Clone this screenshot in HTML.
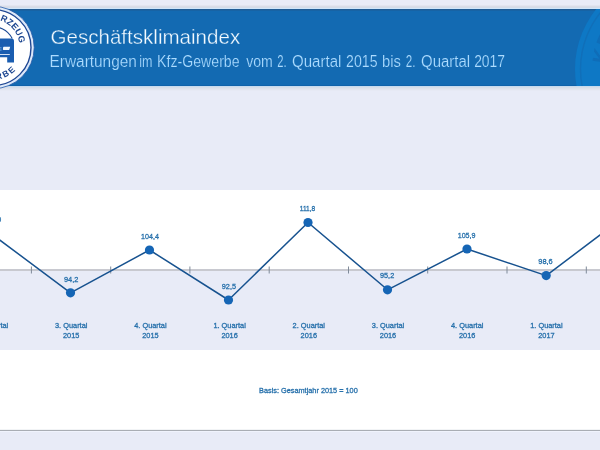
<!DOCTYPE html>
<html>
<head>
<meta charset="utf-8">
<title>Geschäftsklimaindex</title>
<style>
html,body{margin:0;padding:0;background:#e8ebf7;}
body{width:600px;height:450px;overflow:hidden;font-family:"Liberation Sans",sans-serif;}
svg{display:block;will-change:transform;}
text{font-family:"Liberation Sans",sans-serif;}
</style>
</head>
<body>
<svg width="600" height="450" viewBox="0 0 600 450">
  <defs>
    <clipPath id="bannerClip"><rect x="0" y="9" width="600" height="77"/></clipPath>
    <path id="arcTop" d="M -33.89 50.95 A 26.8 26.8 0 1 1 19.13 43.27"/>
    <path id="arcBot" d="M -37.16 58.48 A 32.1 32.1 0 0 0 16.67 69.19"/>
  </defs>

  <!-- page background -->
  <rect x="0" y="0" width="600" height="450" fill="#e8ebf7"/>
  <rect x="0" y="5" width="600" height="1" fill="#e2e5f0"/>
  <rect x="0" y="6" width="600" height="1" fill="#d9dde8"/>
  <rect x="0" y="7" width="600" height="1" fill="#d4dbe8"/>
  <rect x="0" y="8" width="600" height="1" fill="#cfe5fa"/>

  <!-- banner -->
  <rect x="0" y="9" width="600" height="77" fill="#136ab2"/>
  <rect x="0" y="85" width="600" height="1" fill="#0f62aa"/>
  <rect x="0" y="86" width="600" height="1" fill="#c6daee"/>
  <rect x="0" y="87" width="600" height="1" fill="#d6dee9"/>
  <rect x="0" y="88" width="600" height="1" fill="#dde2ec"/>
  <rect x="0" y="89" width="600" height="1" fill="#e2e6f0"/>
  <rect x="0" y="90" width="600" height="1" fill="#e6e9f4"/>
  <rect x="0" y="9" width="600" height="1.5" fill="#1f5c96"/>
  <!-- watermark on the right -->
  <g clip-path="url(#bannerClip)">
    <circle cx="670" cy="69" r="95" fill="#0e78c5"/>
    <circle cx="670" cy="69" r="89.5" fill="none" stroke="#116fb9" stroke-width="1.4"/>
    <g transform="translate(670 69) scale(2.306) translate(7 -47.5)" fill="#0f6db8">
      <text font-size="9" font-weight="bold"><textPath href="#arcTop" startOffset="100%" text-anchor="end">KRAFTFAHRZEUG</textPath></text>
      <text font-size="8.6" font-weight="bold" letter-spacing="1.7"><textPath href="#arcBot" startOffset="100%" text-anchor="end">GEWERBE</textPath></text>
    </g>
  </g>

  <!-- title texts -->
  <text x="50.5" y="43.7" font-size="21" fill="#f3faff" stroke="#136ab2" stroke-width="0.35" textLength="189.7" lengthAdjust="spacingAndGlyphs">Geschäftsklimaindex</text>
  <g font-size="16" fill="#addcff" stroke="#136ab2" stroke-width="0.2">
    <text x="49.54" y="66.8" textLength="87.36" lengthAdjust="spacingAndGlyphs">Erwartungen</text>
    <text x="139.22" y="66.8" textLength="13.23" lengthAdjust="spacingAndGlyphs">im</text>
    <text x="157.12" y="66.8" textLength="82.46" lengthAdjust="spacingAndGlyphs">Kfz-Gewerbe</text>
    <text x="246.25" y="66.8" textLength="26.59" lengthAdjust="spacingAndGlyphs">vom</text>
    <text x="277.30" y="66.8" textLength="9.40" lengthAdjust="spacingAndGlyphs">2.</text>
    <text x="292.06" y="66.8" textLength="49.32" lengthAdjust="spacingAndGlyphs">Quartal</text>
    <text x="346.12" y="66.8" textLength="31.41" lengthAdjust="spacingAndGlyphs">2015</text>
    <text x="382.08" y="66.8" textLength="18.84" lengthAdjust="spacingAndGlyphs">bis</text>
    <text x="405.77" y="66.8" textLength="9.70" lengthAdjust="spacingAndGlyphs">2.</text>
    <text x="421.06" y="66.8" textLength="49.06" lengthAdjust="spacingAndGlyphs">Quartal</text>
    <text x="474.13" y="66.8" textLength="30.88" lengthAdjust="spacingAndGlyphs">2017</text>
  </g>

  <!-- logo -->
  <g>
    <circle cx="-7" cy="47.5" r="41.2" fill="#dde9f9" stroke="#2459a8" stroke-width="0.8"/>
    <circle cx="-7" cy="47.5" r="38" fill="#ffffff" stroke="#1f4793" stroke-width="1.4"/>
    <path d="M -28.5 47.5 A 21.5 21.5 0 0 1 12.2 38.6" fill="none" stroke="#1d4a94" stroke-width="1.1"/>
    <text font-size="9" font-weight="bold" fill="#1c4690" letter-spacing="0"><textPath href="#arcTop" startOffset="100%" text-anchor="end">KRAFTFAHRZEUG</textPath></text>
    <text font-size="8.6" font-weight="bold" fill="#1c4690" letter-spacing="1.7"><textPath href="#arcBot" startOffset="100%" text-anchor="end">GEWERBE</textPath></text>
    <!-- car -->
    <path d="M -28.5 38.4 H 11.6 Q 14 38.4 14 41 V 62.6 H 7.2 V 57.3 H -22 V 62.6 H -28.5 Z" fill="#1a5db0"/>
    <path d="M 3.8 46.7 H 10.2 L 9.4 49.4 Q 9.2 50.1 8.4 50.1 H 3.6 Q 2.8 50.1 2.9 49.3 L 3.1 47.4 Q 3.2 46.7 3.8 46.7 Z" fill="#f2f7fd"/>
    <rect x="-10" y="47.4" width="11.5" height="0.9" fill="#7fb4e6"/>
    <rect x="-10" y="49.6" width="11.5" height="0.9" fill="#7fb4e6"/>
    <rect x="-10" y="54.1" width="19.8" height="0.9" fill="#e8f0fb"/>
  </g>

  <!-- chart panel -->
  <rect x="0" y="190" width="600" height="240" fill="#ffffff"/>
  <rect x="0" y="270" width="600" height="80" fill="#e8ebf7"/>
  <!-- axis -->
  <rect x="0" y="269" width="600" height="2" fill="#c8c9d0"/>
  <g stroke="#7f8a99" stroke-width="1">
    <line x1="31.4" y1="266.5" x2="31.4" y2="273.5"/>
    <line x1="110.7" y1="266.5" x2="110.7" y2="273.5"/>
    <line x1="189.9" y1="266.5" x2="189.9" y2="273.5"/>
    <line x1="269.2" y1="266.5" x2="269.2" y2="273.5"/>
    <line x1="348.5" y1="266.5" x2="348.5" y2="273.5"/>
    <line x1="427.7" y1="266.5" x2="427.7" y2="273.5"/>
    <line x1="507.0" y1="266.5" x2="507.0" y2="273.5"/>
    <line x1="586.3" y1="266.5" x2="586.3" y2="273.5"/>
  </g>

  <!-- data line -->
  <polyline fill="none" stroke="#17528f" stroke-width="1.5" stroke-linejoin="round"
    points="-9,233.5 70.5,292.8 149.5,250 228.5,300 308,222.5 387.5,289.8 467,249 546.2,275.6 625.5,215.8"/>
  <g fill="#1565b5">
    <circle cx="-9" cy="233.5" r="4.6"/>
    <circle cx="70.5" cy="292.8" r="4.6"/>
    <circle cx="149.5" cy="250" r="4.6"/>
    <circle cx="228.5" cy="300" r="4.6"/>
    <circle cx="308" cy="222.5" r="4.6"/>
    <circle cx="387.5" cy="289.8" r="4.6"/>
    <circle cx="467" cy="249" r="4.6"/>
    <circle cx="546.2" cy="275.6" r="4.6"/>
  </g>

  <!-- value labels -->
  <g font-size="8" fill="#2670ab" stroke="#2670ab" stroke-width="0.3" text-anchor="middle">
    <text x="-7.7" y="222.3" textLength="17.8" lengthAdjust="spacingAndGlyphs">109,0</text>
    <text x="71.2" y="281.8" textLength="14.4" lengthAdjust="spacingAndGlyphs">94,2</text>
    <text x="150" y="238.8" textLength="17.8" lengthAdjust="spacingAndGlyphs">104,4</text>
    <text x="228.9" y="288.8" textLength="14.2" lengthAdjust="spacingAndGlyphs">92,5</text>
    <text x="307.5" y="211.2" textLength="15.4" lengthAdjust="spacingAndGlyphs">111,8</text>
    <text x="387.1" y="277.8" textLength="14.2" lengthAdjust="spacingAndGlyphs">95,2</text>
    <text x="466.6" y="237.8" textLength="17.8" lengthAdjust="spacingAndGlyphs">105,9</text>
    <text x="545.5" y="264" textLength="14.4" lengthAdjust="spacingAndGlyphs">98,6</text>
  </g>

  <!-- quarter labels -->
  <g font-size="8" fill="#2670ab" stroke="#2670ab" stroke-width="0.3" text-anchor="middle">
    <text x="-8" y="328" textLength="32.4" lengthAdjust="spacingAndGlyphs">2. Quartal</text>
    <text x="-8" y="337.7" textLength="16.4" lengthAdjust="spacingAndGlyphs">2015</text>
    <text x="71.2" y="328" textLength="32.4" lengthAdjust="spacingAndGlyphs">3. Quartal</text>
    <text x="71.2" y="337.7" textLength="16.4" lengthAdjust="spacingAndGlyphs">2015</text>
    <text x="150.4" y="328" textLength="32.4" lengthAdjust="spacingAndGlyphs">4. Quartal</text>
    <text x="150.4" y="337.7" textLength="16.4" lengthAdjust="spacingAndGlyphs">2015</text>
    <text x="229.6" y="328" textLength="32.4" lengthAdjust="spacingAndGlyphs">1. Quartal</text>
    <text x="229.6" y="337.7" textLength="16.4" lengthAdjust="spacingAndGlyphs">2016</text>
    <text x="308.8" y="328" textLength="32.4" lengthAdjust="spacingAndGlyphs">2. Quartal</text>
    <text x="308.8" y="337.7" textLength="16.4" lengthAdjust="spacingAndGlyphs">2016</text>
    <text x="388" y="328" textLength="32.4" lengthAdjust="spacingAndGlyphs">3. Quartal</text>
    <text x="388" y="337.7" textLength="16.4" lengthAdjust="spacingAndGlyphs">2016</text>
    <text x="467.2" y="328" textLength="32.4" lengthAdjust="spacingAndGlyphs">4. Quartal</text>
    <text x="467.2" y="337.7" textLength="16.4" lengthAdjust="spacingAndGlyphs">2016</text>
    <text x="546.4" y="328" textLength="32.4" lengthAdjust="spacingAndGlyphs">1. Quartal</text>
    <text x="546.4" y="337.7" textLength="16.4" lengthAdjust="spacingAndGlyphs">2017</text>
    <text x="625.6" y="328" textLength="32.4" lengthAdjust="spacingAndGlyphs">2. Quartal</text>
    <text x="625.6" y="337.7" textLength="16.4" lengthAdjust="spacingAndGlyphs">2017</text>
  </g>

  <!-- basis note -->
  <text x="308.4" y="392.9" font-size="8" fill="#2670ab" stroke="#2670ab" stroke-width="0.3" text-anchor="middle" textLength="98.7" lengthAdjust="spacingAndGlyphs">Basis: Gesamtjahr 2015 = 100</text>

  <!-- footer -->
  <rect x="0" y="429" width="600" height="1" fill="#f2f4f6"/>
  <rect x="0" y="430" width="600" height="1" fill="#a9adb4"/>
  <rect x="0" y="431" width="600" height="19" fill="#e8ebf7"/>
  <rect x="0" y="431" width="600" height="1" fill="#f0f3fd"/>
</svg>
</body>
</html>
